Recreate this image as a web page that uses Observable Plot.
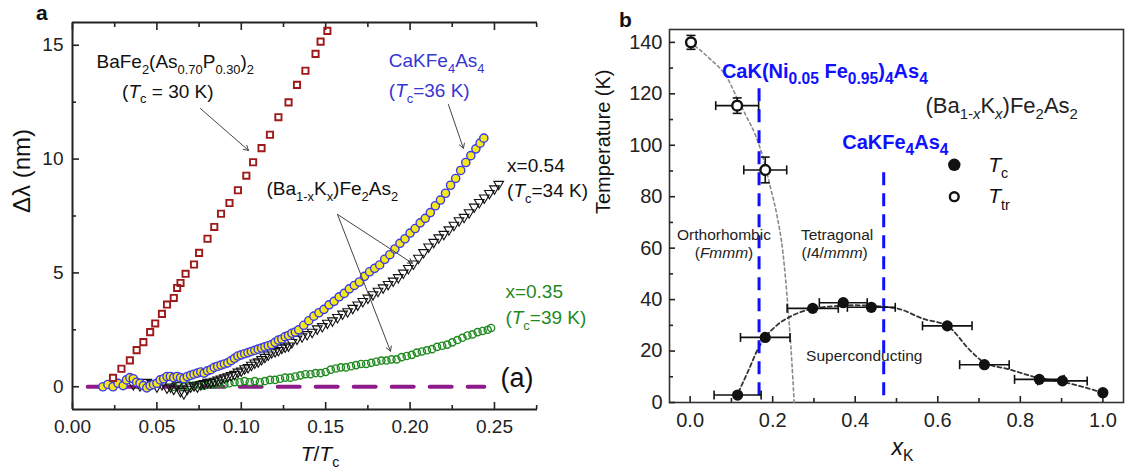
<!DOCTYPE html>
<html><head><meta charset="utf-8">
<script src="https://cdn.jsdelivr.net/npm/d3@7"></script>
<script src="https://cdn.jsdelivr.net/npm/@observablehq/plot@0.6"></script>
<style>
body{margin:0;background:#fff;font-family:Arial,"Liberation Sans",sans-serif;}
#wrap{position:relative;width:1129px;height:476px;overflow:hidden;background:#fff;}
#wrap svg{position:absolute;top:0;overflow:visible;}
.pl{position:absolute;font-weight:bold;font-size:21px;line-height:21px;color:#111;}
</style></head><body>
<div id="wrap"><div class="pl" style="left:36px;top:2px">a</div><div class="pl" style="left:619px;top:9px">b</div></div>
<script>
// ================= Panel a data =================
const aXDomain = [0, 0.2755];
const aYDomain = [-1, 16];
const aXTicks = [0, 0.05, 0.10, 0.15, 0.20, 0.25];
const aXMinor = [0.025, 0.075, 0.125, 0.175, 0.225, 0.275];
const aYTicks = [0, 5, 10, 15];
const aYMinor = [2.5, 7.5, 12.5];

// BaFe2(As0.70P0.30)2, Tc = 30 K
const bafeX = [0.024,0.029,0.034,0.038,0.042,0.046,0.049,0.053,0.056,0.060,0.062,0.064,0.067,0.072,0.075,0.080,0.084,0.088,0.093,0.098,0.103,0.107,0.112,0.117,0.122,0.128,0.133,0.138,0.144,0.147,0.151];
const bafeY = [0.39,0.79,1.16,1.61,1.96,2.40,2.78,3.20,3.61,3.90,4.34,4.56,4.96,5.37,5.88,6.50,7.02,7.60,8.07,8.63,9.27,9.86,10.48,11.07,11.84,12.49,13.26,13.88,14.62,15.16,15.63];

// CaKFe4As4, Tc = 36 K
const cakX = [0.018,0.021,0.024,0.027,0.030,0.032,0.034,0.036,0.038,0.040,0.042,0.044,0.046,0.048,0.050,0.052,0.054,0.056,0.058,0.060,0.062,0.064,0.066,0.068,0.070,0.072,0.074,0.076,0.078,0.080,0.082,0.084,0.086,0.088,0.090,0.092,0.094,0.096,0.098,0.100,0.102,0.104,0.106,0.108,0.110,0.112,0.114,0.116,0.118,0.120,0.122,0.124,0.126,0.128,0.130,0.132,0.134,0.137,0.140,0.143,0.146,0.149,0.152,0.155,0.158,0.161,0.164,0.167,0.170,0.173,0.176,0.179,0.182,0.185,0.188,0.191,0.194,0.197,0.200,0.203,0.206,0.209,0.212,0.215,0.218,0.221,0.224,0.227,0.230,0.233,0.236,0.239,0.2415,0.2437];
const cakY = [0.0,0.1,0.0,0.15,0.05,0.3,0.4,0.35,0.2,0.15,0.05,-0.05,0.05,0.1,0.15,0.3,0.35,0.45,0.45,0.4,0.45,0.4,0.35,0.45,0.5,0.55,0.6,0.65,0.6,0.7,0.75,0.85,0.9,0.95,1.0,1.05,1.15,1.25,1.35,1.4,1.45,1.5,1.55,1.6,1.65,1.7,1.75,1.8,1.85,1.95,2.05,2.1,2.2,2.25,2.35,2.4,2.5,2.7,2.9,3.1,3.25,3.4,3.6,3.75,3.95,4.1,4.3,4.45,4.6,4.85,5.05,5.2,5.35,5.6,5.8,6.05,6.3,6.5,6.75,6.95,7.2,7.4,7.65,7.95,8.2,8.5,8.85,9.15,9.5,9.85,10.15,10.45,10.7,10.92];

// (Ba1-xKx)Fe2As2 x = 0.54, Tc = 34 K
const k54X = [0.036,0.040,0.044,0.047,0.050,0.053,0.056,0.058,0.060,0.062,0.064,0.066,0.068,0.070,0.072,0.074,0.076,0.078,0.080,0.082,0.084,0.086,0.088,0.090,0.092,0.094,0.096,0.098,0.100,0.102,0.104,0.106,0.108,0.110,0.112,0.114,0.116,0.118,0.120,0.122,0.124,0.126,0.128,0.130,0.133,0.136,0.139,0.142,0.145,0.148,0.151,0.154,0.157,0.160,0.163,0.166,0.169,0.172,0.175,0.178,0.181,0.184,0.187,0.190,0.193,0.196,0.199,0.202,0.205,0.208,0.211,0.214,0.217,0.220,0.223,0.226,0.229,0.232,0.235,0.238,0.241,0.244,0.247,0.250,0.2525];
const k54Y = [0.1,0.05,0.2,0.15,0.0,0.1,-0.05,0.0,-0.1,0.05,-0.2,-0.3,-0.1,0.0,0.05,0.0,0.1,0.15,0.2,0.2,0.25,0.3,0.35,0.4,0.45,0.5,0.55,0.65,0.7,0.8,0.85,0.95,1.05,1.1,1.2,1.3,1.4,1.5,1.55,1.6,1.7,1.75,1.8,1.95,2.1,2.2,2.3,2.4,2.55,2.65,2.8,2.9,3.05,3.2,3.3,3.45,3.6,3.75,3.9,4.05,4.2,4.35,4.5,4.65,4.8,5.0,5.2,5.4,5.65,5.9,6.15,6.35,6.55,6.7,6.9,7.1,7.3,7.45,7.65,7.9,8.1,8.3,8.5,8.7,8.9];

// (Ba1-xKx)Fe2As2 x = 0.35, Tc = 39 K
const k35X = [0.060,0.063,0.066,0.069,0.072,0.075,0.078,0.081,0.084,0.087,0.090,0.093,0.096,0.099,0.102,0.105,0.108,0.111,0.114,0.117,0.120,0.123,0.126,0.129,0.132,0.135,0.138,0.141,0.144,0.147,0.150,0.153,0.156,0.159,0.162,0.165,0.168,0.171,0.174,0.177,0.180,0.183,0.186,0.189,0.192,0.195,0.198,0.201,0.204,0.207,0.210,0.213,0.216,0.219,0.222,0.225,0.228,0.231,0.234,0.237,0.240,0.243,0.246,0.248];
const k35Y = [0.0,0.05,0.0,0.05,0.05,0.1,0.05,0.1,0.1,0.15,0.1,0.15,0.2,0.2,0.25,0.2,0.25,0.2,0.25,0.3,0.3,0.35,0.4,0.4,0.45,0.5,0.55,0.55,0.6,0.6,0.65,0.75,0.8,0.85,0.85,0.9,0.95,1.0,1.0,1.05,1.1,1.15,1.15,1.2,1.2,1.3,1.35,1.4,1.5,1.55,1.6,1.65,1.75,1.8,1.85,1.95,2.05,2.15,2.25,2.3,2.4,2.45,2.5,2.58];

// zero reference line
const zeroX = [0.009, 0.244];
const zeroY = [0, 0];

// annotations (data coordinates)
const aLabels = ["BaFe_{2}(As_{0.70}P_{0.30})_{2}", "(*T*_{c} = 30 K)", "CaKFe_{4}As_{4}", "(*T*_{c}=36 K)", "(Ba_{1-x}K_{x})Fe_{2}As_{2}", "x=0.54", "(*T*_{c}=34 K)", "x=0.35", "(*T*_{c}=39 K)"];
const aLabelX = [0.0142, 0.0294, 0.1874, 0.1874, 0.1149, 0.2575, 0.2575, 0.2565, 0.2565];
const aLabelY = [14.26, 12.97, 14.32, 13.0, 8.69, 9.68, 8.6, 4.18, 3.01];
const aLabelSeries = ["p", "p", "cak", "cak", "ba", "ba", "ba", "k35", "k35"];
const panelTag = ["(a)"]; const panelTagX = [0.2536]; const panelTagY = [0.35];
const arrowX1 = [0.0758, 0.2227, 0.157, 0.157];
const arrowY1 = [12.22, 12.4, 7.57, 7.57];
const arrowX2 = [0.1043, 0.2316, 0.2014, 0.1884];
const arrowY2 = [10.38, 10.47, 5.42, 1.56];

// ================= Panel b data =================
const bXDomain = [-0.05, 1.05];
const bYDomain = [0, 145];
const bXTicks = [0, 0.2, 0.4, 0.6, 0.8, 1.0];
const bXMinor = [0.1, 0.3, 0.5, 0.7, 0.9];
const bYTicks = [0, 20, 40, 60, 80, 100, 120, 140];
const bYMinor = [10, 30, 50, 70, 90, 110, 130];

const tcX = [0.115, 0.182, 0.297, 0.371, 0.439, 0.623, 0.713, 0.846, 0.902, 1.0];
const tcT = [2.9, 25.3, 36.6, 38.8, 37.0, 29.8, 14.7, 9.0, 8.4, 3.8];
const tcXerr = [0.057, 0.06, 0.062, 0.058, 0.058, 0.06, 0.06, 0.06, 0.06, 0];

const ttrX = [0.002, 0.114, 0.182];
const ttrT = [140, 115.4, 90.4];
const ttrXerr = [0, 0.052, 0.052];
const ttrTerr = [2.7, 3, 5];

const ttrCurveX = [0.0, 0.048, 0.089, 0.117, 0.137, 0.158, 0.177, 0.194, 0.210, 0.225, 0.238, 0.246, 0.252];
const ttrCurveT = [140, 133.6, 126.4, 117.3, 111, 104, 95, 84, 73, 58, 35, 17, 0];
const tcCurveX = [0.117, 0.14, 0.165, 0.182, 0.21, 0.238, 0.274, 0.32, 0.4, 0.5, 0.565, 0.623, 0.68, 0.713, 0.77, 0.846, 0.902, 1.0];
const tcCurveT = [4, 12, 21, 25.3, 30, 33, 35.5, 37, 37.8, 36.6, 32.5, 29.8, 20, 15.5, 13, 9.5, 8, 3.8];

const markX = [0.167, 0.469];
const markT1 = [2.6, 2.6];
const markT2 = [122.4, 90];
const markLabels = ["CaK(Ni_{0.05} Fe_{0.95})_{4}As_{4}", "CaKFe_{4}As_{4}"];
const markLabelX = [0.077, 0.3685];
const markLabelT = [128.7, 101.1];

const phaseLabels = ["Orthorhombic", "(*Fmmm*)", "Tetragonal", "(*I*4/*mmm*)"];
const phaseX = [0.082, 0.082, 0.356, 0.35];
const phaseT = [65, 58.2, 65, 58.2];
const scLabel = ["Superconducting"]; const scX = [0.281]; const scT = [18.2];
const compLabel = ["(Ba_{1-*x*}K_{*x*})Fe_{2}As_{2}"]; const compX = [0.57]; const compT = [115.4];
const legendLabels = ["*T*_{c}", "*T*_{tr}"];
const legendDotX = [0.64, 0.64]; const legendTextX = [0.722, 0.722]; const legendT = [92.4, 80];

// ================= helpers =================
const zip = (xs, ys) => xs.map((x, i) => ({x, y: ys[i]}));
const FONT = "Arial, 'Liberation Sans', Helvetica, sans-serif";
const vCap = {draw(ctx) { ctx.moveTo(0, -4.5); ctx.lineTo(0, 4.5); }};
const hCap = {draw(ctx) { ctx.moveTo(-4.5, 0); ctx.lineTo(4.5, 0); }};

function richify(svg) {
  svg.querySelectorAll("text").forEach(el => {
    if (el.querySelector("tspan")) return;
    const s = el.textContent;
    if (!/[_*]/.test(s)) return;
    const cs = getComputedStyle(el);
    const fs = parseFloat(cs.fontSize);
    const bold = cs.fontWeight === "bold" || +cs.fontWeight >= 600;
    const scale = bold ? 0.78 : 0.68;
    const segs = []; let italic = false, sub = false, buf = "";
    const push = () => { if (buf) segs.push({t: buf, italic, sub}); buf = ""; };
    for (let i = 0; i < s.length; i++) {
      const c = s[i];
      if (c === "*") { push(); italic = !italic; }
      else if (c === "_" && s[i + 1] === "{") { push(); sub = true; i++; }
      else if (c === "}" && sub) { push(); sub = false; }
      else buf += c;
    }
    push();
    el.textContent = "";
    let shifted = 0;
    const sh = fs * 0.3;
    for (const g of segs) {
      const t = document.createElementNS("http://www.w3.org/2000/svg", "tspan");
      t.textContent = g.t;
      if (g.italic) t.setAttribute("font-style", "italic");
      const want = g.sub ? sh : 0;
      if (want !== shifted) { t.setAttribute("dy", want - shifted); shifted = want; }
      if (g.sub) t.setAttribute("font-size", fs * scale);
      el.appendChild(t);
    }
  });
}

// ================= Panel a =================
const seriesColor = {p: "#111", cak: "#3636d2", ba: "#111", k35: "#1f8a1f"};
const aAnn = aLabels.map((t, i) => ({t, x: aLabelX[i], y: aLabelY[i], c: seriesColor[aLabelSeries[i]]}));
const arrows = arrowX1.map((x1, i) => ({x1, y1: arrowY1[i], x2: arrowX2[i], y2: arrowY2[i]}));
const axStyle = {stroke: "#222", strokeWidth: 1.6, label: null};

const plotA = Plot.plot({
  width: 560, height: 476,
  marginLeft: 72, marginRight: 23, marginTop: 22, marginBottom: 67,
  x: {domain: aXDomain},
  y: {domain: aYDomain},
  style: {fontFamily: FONT, color: "#222", background: "transparent", overflow: "visible"},
  marks: [
    Plot.ruleX([aXDomain[0]], {stroke: "#222", strokeWidth: 2}),
    Plot.ruleY([aYDomain[0]], {stroke: "#222", strokeWidth: 2}),
    Plot.ruleY([aYDomain[1]], {stroke: "#222", strokeWidth: 2}),
    Plot.axisX(aXTicks, {...axStyle, tickSize: -7, tickPadding: 17, fontSize: 19, tickFormat: d3.format(".2f")}),
    Plot.axisX(aXMinor, {...axStyle, tickSize: -4, tickFormat: () => ""}),
    Plot.axisX(aXTicks, {...axStyle, anchor: "top", tickSize: -7, tickFormat: () => ""}),
    Plot.axisX(aXMinor, {...axStyle, anchor: "top", tickSize: -4, tickFormat: () => ""}),
    Plot.axisY(aYTicks, {...axStyle, tickSize: -7, tickPadding: 16, fontSize: 19}),
    Plot.axisY(aYMinor, {...axStyle, tickSize: -4, tickFormat: () => ""}),
    Plot.line(zip(zeroX, zeroY), {x: "x", y: "y", stroke: "#8e1b8c", strokeWidth: 4, strokeDasharray: "22,16"}),
    Plot.dot(zip(k35X, k35Y), {x: "x", y: "y", r: 3.6, stroke: "#1f8a1f", strokeWidth: 1.4, fill: "none"}),
    Plot.dot(zip(k54X, k54Y), {x: "x", y: "y", symbol: "triangle", rotate: 180, r: 3.6, stroke: "#111", strokeWidth: 1.1, fill: "none"}),
    Plot.dot(zip(cakX, cakY), {x: "x", y: "y", r: 4.1, fill: "#f4e71c", stroke: "#3a3aea", strokeWidth: 1.4}),
    Plot.dot(zip(bafeX, bafeY), {x: "x", y: "y", symbol: "square", r: 3.5, stroke: "#9e1a1a", strokeWidth: 1.9, fill: "none"}),
    Plot.arrow(arrows, {x1: "x1", y1: "y1", x2: "x2", y2: "y2", stroke: "#444", strokeWidth: 1, headLength: 8}),
    Plot.text(aAnn, {x: "x", y: "y", text: "t", fill: "c", textAnchor: "start", fontSize: 19}),
    Plot.text(panelTag, {x: panelTagX, y: panelTagY, text: d => d, textAnchor: "start", fontSize: 27, fill: "#111"}),
    Plot.text(["*T*/*T*_{c}"], {frameAnchor: "bottom", text: d => d, dx: 15, dy: 51, fontSize: 21, fill: "#111"}),
    Plot.text(["Δλ (nm)"], {frameAnchor: "left", text: d => d, rotate: -90, dx: -50, dy: -3, fontSize: 24, fill: "#111"})
  ]
});

// ================= Panel b =================
const tc = tcX.map((x, i) => ({x, T: tcT[i], xe: tcXerr[i]}));
const ttr = ttrX.map((x, i) => ({x, T: ttrT[i], xe: ttrXerr[i], te: ttrTerr[i]}));
const tcE = tc.filter(d => d.xe > 0);
const ttrE = ttr.filter(d => d.xe > 0);
const marksB = markX.map((x, i) => ({x, y1: markT1[i], y2: markT2[i]}));

const plotB = Plot.plot({
  width: 569, height: 476,
  marginLeft: 109, marginRight: 6, marginTop: 29, marginBottom: 74,
  x: {domain: bXDomain},
  y: {domain: bYDomain},
  style: {fontFamily: FONT, color: "#222", background: "transparent", overflow: "visible"},
  marks: [
    Plot.frame({stroke: "#333", strokeWidth: 1.6}),
    Plot.axisX(bXTicks, {...axStyle, tickSize: -6, tickPadding: 16, fontSize: 20, tickFormat: d3.format(".1f")}),
    Plot.axisX(bXMinor, {...axStyle, tickSize: -4, tickFormat: () => ""}),
    Plot.axisY(bYTicks, {...axStyle, tickSize: -6, tickPadding: 13, fontSize: 20}),
    Plot.axisY(bYMinor, {...axStyle, tickSize: -4, tickFormat: () => ""}),
    Plot.line(zip(ttrCurveX, ttrCurveT), {x: "x", y: "y", curve: "monotone-x", stroke: "#8a8a8a", strokeWidth: 1.6, strokeDasharray: "3,3"}),
    Plot.line(zip(tcCurveX, tcCurveT), {x: "x", y: "y", curve: "monotone-x", stroke: "#333", strokeWidth: 1.8, strokeDasharray: "4,3"}),
    Plot.ruleX(marksB, {x: "x", y1: "y1", y2: "y2", stroke: "#1010ff", strokeWidth: 3, strokeDasharray: "13,8"}),
    Plot.link(tcE, {x1: d => d.x - d.xe, x2: d => d.x + d.xe, y1: "T", y2: "T", stroke: "#111", strokeWidth: 1.6}),
    Plot.dot(tcE, {x: d => d.x - d.xe, y: "T", symbol: vCap, stroke: "#111", strokeWidth: 1.6, fill: "none"}),
    Plot.dot(tcE, {x: d => d.x + d.xe, y: "T", symbol: vCap, stroke: "#111", strokeWidth: 1.6, fill: "none"}),
    Plot.link(ttrE, {x1: d => d.x - d.xe, x2: d => d.x + d.xe, y1: "T", y2: "T", stroke: "#111", strokeWidth: 1.6}),
    Plot.dot(ttrE, {x: d => d.x - d.xe, y: "T", symbol: vCap, stroke: "#111", strokeWidth: 1.6, fill: "none"}),
    Plot.dot(ttrE, {x: d => d.x + d.xe, y: "T", symbol: vCap, stroke: "#111", strokeWidth: 1.6, fill: "none"}),
    Plot.link(ttr, {x1: "x", x2: "x", y1: d => d.T - d.te, y2: d => d.T + d.te, stroke: "#111", strokeWidth: 1.6}),
    Plot.dot(ttr, {x: "x", y: d => d.T - d.te, symbol: hCap, stroke: "#111", strokeWidth: 1.6, fill: "none"}),
    Plot.dot(ttr, {x: "x", y: d => d.T + d.te, symbol: hCap, stroke: "#111", strokeWidth: 1.6, fill: "none"}),
    Plot.dot(tc, {x: "x", y: "T", r: 5.6, fill: "#111", stroke: "none"}),
    Plot.dot(ttr, {x: "x", y: "T", r: 4.9, fill: "white", stroke: "#111", strokeWidth: 2.4}),
    Plot.text(markLabels, {x: markLabelX, y: markLabelT, text: d => d, textAnchor: "start", fontSize: 20, fontWeight: "bold", fill: "#1010ff"}),
    Plot.text(phaseLabels, {x: phaseX, y: phaseT, text: d => d, fontSize: 15.5, fill: "#222"}),
    Plot.text(scLabel, {x: scX, y: scT, text: d => d, textAnchor: "start", fontSize: 15.5, fill: "#222"}),
    Plot.text(compLabel, {x: compX, y: compT, text: d => d, textAnchor: "start", fontSize: 22, fill: "#222"}),
    Plot.dot([legendLabels[0]], {x: [legendDotX[0]], y: [legendT[0]], r: 6.2, fill: "#111", stroke: "none"}),
    Plot.dot([legendLabels[1]], {x: [legendDotX[1]], y: [legendT[1]], r: 4.4, fill: "white", stroke: "#111", strokeWidth: 2.4}),
    Plot.text(legendLabels, {x: legendTextX, y: legendT, text: d => d, textAnchor: "start", fontSize: 21, fill: "#111"}),
    Plot.text(["*x*_{K}"], {frameAnchor: "bottom", text: d => d, dx: 6, dy: 52, fontSize: 23, fill: "#111"}),
    Plot.text(["Temperature (K)"], {frameAnchor: "left", text: d => d, rotate: -90, dx: -66, dy: -2, fontSize: 20, fill: "#111"})
  ]
});

const wrap = document.getElementById("wrap");
plotA.style.left = "0px";
plotB.style.left = "560px";
wrap.appendChild(plotA);
wrap.appendChild(plotB);
richify(plotA);
richify(plotB);
</script>
</body></html>
